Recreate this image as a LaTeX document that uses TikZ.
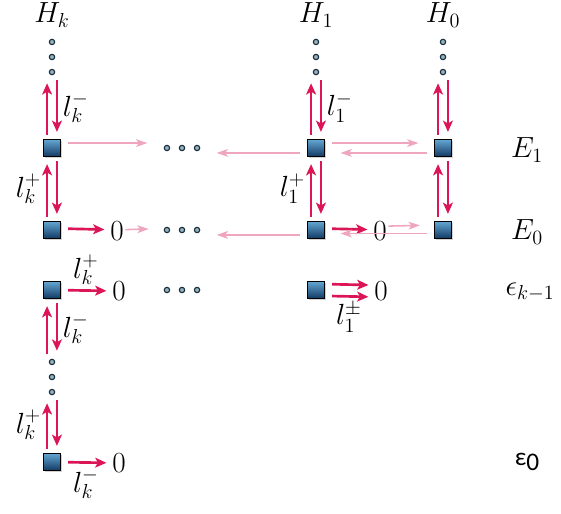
\documentclass[tikz,border=0pt]{standalone}
\usepackage{fontspec}
\newfontfamily\carlito{Carlito}
\usetikzlibrary{arrows.meta,shadows}
\definecolor{crimson}{RGB}{220,22,86}
\definecolor{blush}{RGB}{240,165,190}
\definecolor{celltop}{RGB}{100,165,210}
\definecolor{cellbot}{RGB}{18,58,100}
\definecolor{dotfill}{RGB}{150,178,190}
\definecolor{dotline}{RGB}{25,45,60}
\tikzset{
  cell/.style={draw=black, line width=0.9pt, minimum size=12pt, inner sep=0pt,
    top color=celltop, bottom color=cellbot,
    drop shadow={opacity=0.35, shadow xshift=1.2pt, shadow yshift=-1.2pt}},
  vdts/.style={minimum width=6.5pt, minimum height=27pt, inner sep=0pt,
    path picture={\foreach \t in {-1,0,1}
      \filldraw[fill=dotfill, draw=dotline, line width=0.8pt]
        ([yshift={\t*10.7pt}]path picture bounding box.center) circle (1.9pt);}},
  hdts/.style={minimum width=27pt, minimum height=6.5pt, inner sep=0pt,
    path picture={\foreach \t in {-1,0,1}
      \filldraw[fill=dotfill, draw=dotline, line width=0.8pt]
        ([xshift={\t*10.7pt}]path picture bounding box.center) circle (1.9pt);}},
  zero/.style={inner sep=1pt},
  flow/.style={-{Stealth[length=8pt, width=7pt, inset=2pt]}, draw=crimson, line width=1.9pt,
    shorten <=3pt, shorten >=5pt},
  hflow/.style={flow, shorten <=5pt, shorten >=3pt},
  faint/.style={-{Stealth[length=8pt, width=5.5pt, inset=2pt]}, draw=blush, line width=1.1pt,
    shorten <=5pt, shorten >=11pt}
}
\begin{document}
\begin{tikzpicture}[x=0.025cm, y=-0.025cm, every node/.style={font=\huge}]
  \useasboundingbox (0,0) rectangle (561,514);
  % column heads
  \node (hK) at (52,15) {$H_k$};
  \node (h1) at (316,15) {$H_1$};
  \node (h0) at (443,15) {$H_0$};
  % row names
  \node (rE1) at (527,150) {$E_1$};
  \node (rE0) at (527,232) {$E_0$};
  \node (rek) at (530,292) {$\epsilon_{k-1}$};
  \node (rez) at (527,462) {\fontsize{18}{20}\selectfont\carlito ε\raisebox{-3.5pt}{0}};
  % cells
  \node[cell] (sqK1) at (52,148) {};
  \node[cell] (sqK0) at (52,230) {};
  \node[cell] (sqKe) at (52,290) {};
  \node[cell] (sqKz) at (52,462) {};
  \node[cell] (sq11) at (316,148) {};
  \node[cell] (sq10) at (316,230) {};
  \node[cell] (sq1e) at (316,290) {};
  \node[cell] (sq01) at (443,148) {};
  \node[cell] (sq00) at (443,230) {};
  % dots
  \node[vdts] (dK) at (52,57) {};
  \node[vdts] (d1) at (316,57) {};
  \node[vdts] (d0) at (443,57) {};
  \node[vdts] (dKm) at (52,377) {};
  \node[hdts] (hd1) at (182,148) {};
  \node[hdts] (hd0) at (182,230) {};
  \node[hdts] (hde) at (182,290) {};
  % zeros
  \node[zero] (zK0) at (117,231) {$0$};
  \node[zero] (z10) at (380,231) {$0$};
  \node[zero] (zKe) at (119,291) {$0$};
  \node[zero] (z1e) at (381,291) {$0$};
  \node[zero] (zKz) at (119,463) {$0$};

  % column k
  \draw[flow] ([xshift=-3.5pt]sqK1.north) -- ([xshift=-3.5pt]dK.south);
  \draw[flow] ([xshift=3.5pt]dK.south) -- node[right] {$l_k^-$} ([xshift=3.5pt]sqK1.north);
  \draw[flow] ([xshift=-3.5pt]sqK0.north) -- node[left] {$l_k^+$} ([xshift=-3.5pt]sqK1.south);
  \draw[flow] ([xshift=3.5pt]sqK1.south) -- ([xshift=3.5pt]sqK0.north);
  \draw[flow] ([xshift=-3.5pt]dKm.north) -- ([xshift=-3.5pt]sqKe.south);
  \draw[flow] ([xshift=3.5pt]sqKe.south) -- node[right] {$l_k^-$} ([xshift=3.5pt]dKm.north);
  \draw[flow] ([xshift=-3.5pt]sqKz.north) -- node[left] {$l_k^+$} ([xshift=-3.5pt]dKm.south);
  \draw[flow] ([xshift=3.5pt]dKm.south) -- ([xshift=3.5pt]sqKz.north);
  % column 1
  \draw[flow] ([xshift=-3.5pt]sq11.north) -- ([xshift=-3.5pt]d1.south);
  \draw[flow] ([xshift=3.5pt]d1.south) -- node[right] {$l_1^-$} ([xshift=3.5pt]sq11.north);
  \draw[flow] ([xshift=-3.5pt]sq10.north) -- node[left] {$l_1^+$} ([xshift=-3.5pt]sq11.south);
  \draw[flow] ([xshift=3.5pt]sq11.south) -- ([xshift=3.5pt]sq10.north);
  % column 0
  \draw[flow] ([xshift=-3.5pt]sq01.north) -- ([xshift=-3.5pt]d0.south);
  \draw[flow] ([xshift=3.5pt]d0.south) -- ([xshift=3.5pt]sq01.north);
  \draw[flow] ([xshift=-3.5pt]sq00.north) -- ([xshift=-3.5pt]sq01.south);
  \draw[flow] ([xshift=3.5pt]sq01.south) -- ([xshift=3.5pt]sq00.north);

  % row E_1
  \draw[faint] ([yshift=3.5pt]sqK1.east) -- ([yshift=3.5pt]hd1.west);
  \draw[faint] ([yshift=-3.5pt]sq11.west) -- ([yshift=-3.5pt]hd1.east);
  \draw[faint] ([yshift=3.5pt]sq11.east) -- ([yshift=3.5pt]sq01.west);
  \draw[faint] ([yshift=-3.5pt]sq01.west) -- ([yshift=-3.5pt]sq11.east);
  % row E_0
  \draw[hflow] ([yshift=1pt]sqK0.east) -- ([yshift=1pt]zK0.west);
  \draw[faint, shorten <=0pt, shorten >=10pt] ([yshift=1pt]zK0.east) -- ([yshift=1pt]hd0.west);
  \draw[faint] ([yshift=-3.5pt]sq10.west) -- ([yshift=-3.5pt]hd0.east);
  \draw[hflow] ([yshift=1pt]sq10.east) -- ([yshift=1pt]z10.west);
  \draw[faint, shorten <=0pt, shorten >=10pt] ([yshift=3.5pt]z10.east) -- ([yshift=3.5pt]sq00.west);
  \draw[faint] ([yshift=-2.5pt]sq00.west) -- ([yshift=-2.5pt]sq10.east);
  % row epsilon_{k-1}
  \draw[hflow] (sqKe) -- node[above] {$l_k^+$} (zKe);
  \draw[hflow] ([yshift=4.2pt]sq1e.east) -- ([yshift=4.2pt]z1e.west);
  \draw[hflow] ([yshift=-4.2pt]sq1e.east) -- node[below] {$l_1^{\pm}$} ([yshift=-4.2pt]z1e.west);
  % row epsilon_0
  \draw[hflow] (sqKz) -- node[below] {$l_k^-$} (zKz);
\end{tikzpicture}
\end{document}
